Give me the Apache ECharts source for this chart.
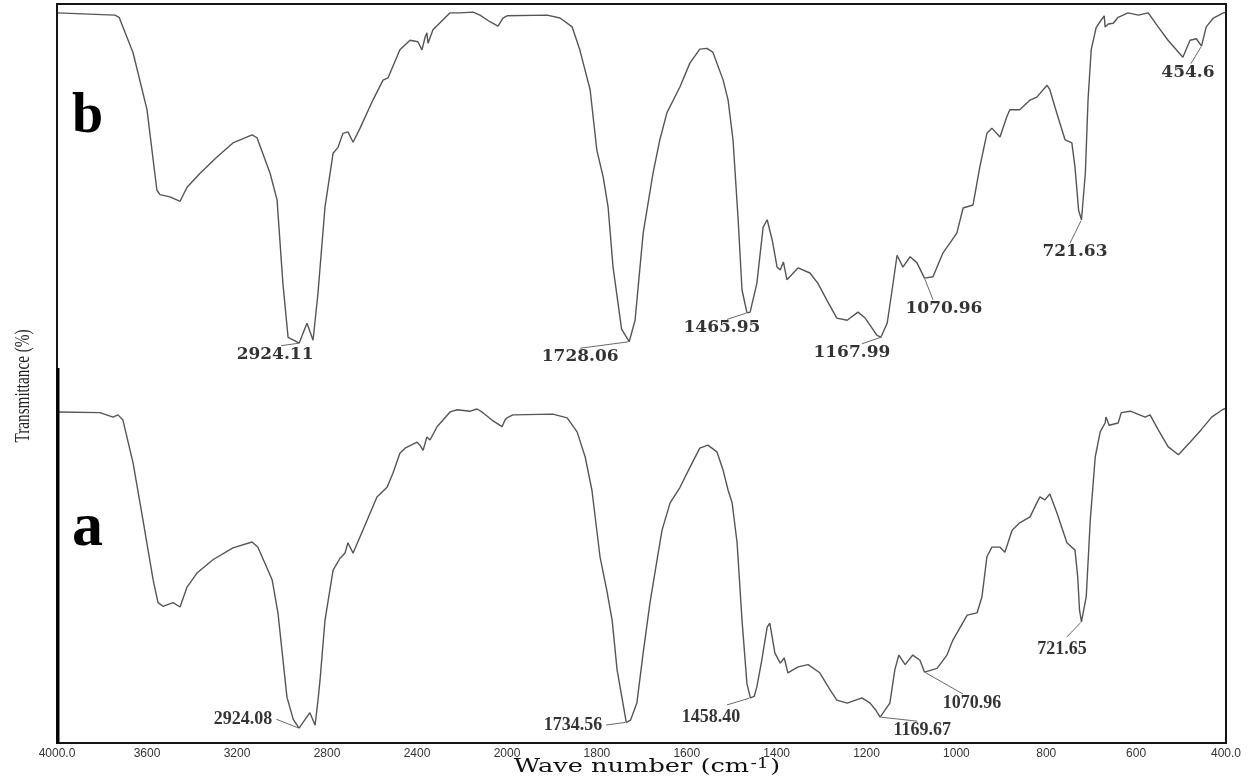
<!DOCTYPE html>
<html>
<head>
<meta charset="utf-8">
<script src="https://cdn.jsdelivr.net/npm/echarts@6/dist/echarts.min.js"></script>
<style>
  html, body { margin: 0; padding: 0; background: #fff; }
  #chart { width: 1249px; height: 783px; }
</style>
</head>
<body>
<div id="chart"></div>
<script>
// FTIR spectra: wavenumber (cm-1) against transmittance; trace b is stacked above trace a.
const waveB = [
  4000, 3742, 3724, 3662, 3600, 3556, 3542, 3498, 3453, 3422,
  3364, 3289, 3218, 3133, 3111, 3053, 3022, 2996, 2973, 2942,
  2924.11, 2889, 2862, 2840, 2809, 2773, 2751, 2729, 2707, 2684,
  2653, 2596, 2551, 2529, 2476, 2431, 2396, 2378, 2364, 2356,
  2351, 2329, 2253, 2209, 2151, 2120, 2076, 2040, 2018, 2000,
  1911, 1882, 1855, 1838, 1815, 1800, 1786, 1775, 1764, 1745,
  1728.06, 1715, 1697, 1675, 1660, 1644, 1615, 1593, 1571, 1555,
  1542, 1519, 1508, 1497, 1486, 1477, 1465.95, 1459, 1444, 1430,
  1421, 1410, 1399, 1392, 1385, 1377, 1352, 1326, 1308, 1288,
  1266, 1243, 1219, 1203, 1177, 1167.99, 1154, 1143, 1132, 1119,
  1103, 1088, 1070.96, 1052, 1030, 999, 985, 963, 948, 932,
  921, 903, 888, 881, 859, 836, 821, 798, 792, 774,
  758, 743, 736, 728, 721.63, 713, 707, 700, 689, 678,
  671, 669, 662, 651, 640, 618, 595, 573, 551, 529,
  496, 480, 466, 454.6, 444, 428, 406, 400
];
const transB = [
  98.8, 98.5, 98.2, 93.4, 85.7, 74.8, 74.2, 73.9, 73.3, 75.2,
  77.1, 79.3, 81.2, 82.3, 81.9, 77.1, 73.5, 62.2, 54.9, 54.4,
  54.1, 56.8, 54.5, 60.9, 72.5, 79.8, 80.6, 82.5, 82.7, 81.3,
  83.2, 87.0, 89.7, 90.0, 93.8, 95.1, 94.9, 93.8, 95.5, 96.1,
  94.7, 96.5, 98.8, 98.8, 98.9, 98.5, 97.6, 97.0, 98.1, 98.4,
  98.5, 98.1, 96.9, 93.8, 88.4, 80.2, 76.6, 72.5, 64.4, 56.0,
  54.3, 57.2, 69.0, 77.1, 81.6, 85.3, 88.8, 92.0, 93.9, 94.0,
  93.5, 89.7, 87.0, 81.6, 71.2, 61.3, 58.2, 58.3, 62.2, 69.8,
  70.8, 68.1, 64.4, 64.0, 65.1, 62.7, 64.3, 63.6, 62.2, 59.9,
  57.5, 57.2, 58.3, 57.5, 55.2, 54.9, 56.8, 61.3, 66.0, 64.4,
  65.8, 65.0, 62.9, 63.1, 66.3, 69.0, 72.4, 72.8, 77.9, 82.5,
  83.2, 82.0, 84.7, 85.7, 85.7, 87.0, 87.4, 89.0, 88.4, 84.7,
  81.6, 81.2, 77.9, 72.1, 70.8, 77.1, 87.0, 93.8, 96.8, 97.8,
  98.4, 96.9, 97.3, 97.4, 98.2, 98.8, 98.5, 98.8, 96.9, 95.1,
  92.8, 95.1, 95.3, 94.3, 96.9, 98.1, 98.8, 98.9
];

const waveA = [
  4000, 3809, 3751, 3729, 3707, 3662, 3618, 3573, 3551, 3529,
  3484, 3453, 3422, 3378, 3307, 3218, 3133, 3107, 3044, 3018,
  2978, 2950, 2924.08, 2876, 2853, 2840, 2831, 2809, 2773, 2742,
  2720, 2707, 2684, 2653, 2578, 2533, 2507, 2476, 2453, 2400,
  2387, 2373, 2356, 2342, 2311, 2253, 2222, 2164, 2133, 2107,
  2067, 2022, 2009, 2000, 1987, 1898, 1866, 1844, 1826, 1811,
  1793, 1778, 1766, 1755, 1734.56, 1725, 1711, 1697, 1682, 1666,
  1655, 1637, 1615, 1593, 1571, 1553, 1533, 1519, 1508, 1499,
  1488, 1477, 1466, 1458.40, 1450, 1444, 1433, 1421, 1415, 1404,
  1392, 1383, 1375, 1352, 1330, 1304, 1281, 1266, 1243, 1210,
  1192, 1180, 1169.67, 1148, 1137, 1128, 1114, 1097, 1081, 1070.96,
  1043, 1021, 1008, 976, 954, 943, 932, 921, 903, 892,
  876, 859, 836, 821, 814, 803, 792, 776, 754, 736,
  730, 726, 721.65, 711, 702, 691, 680, 669, 667, 660,
  640, 633, 613, 580, 569, 551, 529, 506, 480, 455,
  432, 408, 400
];
const transA = [
  44.8, 44.7, 44.1, 44.4, 43.7, 37.9, 30.2, 22.1, 19.0, 18.5,
  19.0, 18.4, 21.1, 23.0, 24.8, 26.4, 27.2, 26.5, 22.1, 17.6,
  6.2, 3.2, 2.0, 4.1, 2.4, 5.8, 8.5, 16.6, 23.4, 25.0,
  25.7, 27.1, 25.7, 27.9, 33.3, 34.6, 36.5, 39.2, 39.9, 40.7,
  40.3, 39.6, 41.4, 41.0, 42.8, 44.8, 45.1, 44.9, 45.2, 44.7,
  43.7, 42.8, 43.7, 44.0, 44.4, 44.5, 44.0, 42.1, 38.7, 34.2,
  25.2, 20.7, 16.6, 9.9, 2.8, 3.1, 5.4, 12.2, 18.9, 24.8,
  28.8, 32.5, 34.6, 37.3, 39.9, 40.3, 39.4, 36.9, 34.2, 32.5,
  27.1, 16.6, 8.0, 6.1, 6.3, 7.6, 11.2, 15.7, 16.2, 12.2,
  10.8, 11.5, 9.5, 10.3, 10.6, 9.5, 7.2, 5.8, 5.4, 6.1,
  5.4, 4.5, 3.5, 5.4, 9.9, 11.9, 10.6, 11.9, 11.2, 9.6,
  10.1, 11.9, 13.9, 17.3, 17.6, 19.8, 25.2, 26.5, 26.5, 25.8,
  28.8, 29.8, 30.6, 32.5, 33.3, 32.9, 33.7, 31.1, 27.1, 26.1,
  22.5, 18.0, 16.4, 19.8, 30.2, 38.7, 42.1, 43.3, 44.1, 43.0,
  43.3, 44.7, 44.9, 44.1, 44.4, 42.4, 40.1, 39.0, 40.7, 42.4,
  44.1, 45.1, 45.3
];

// Annotated band positions (cm-1) and their printed labels
const peaksB = [2924.11, 1728.06, 1465.95, 1167.99, 1070.96, 721.63, 454.6];
const peakTextB = ['2924.11', '1728.06', '1465.95', '1167.99', '1070.96', '721.63', '454.6'];
const peaksA = [2924.08, 1734.56, 1458.40, 1169.67, 1070.96, 721.65];
const peakTextA = ['2924.08', '1734.56', '1458.40', '1169.67', '1070.96', '721.65'];

// Tick labels: 4000-2000 every 400, then 2000-400 every 200 (expanded scale)
const tickLabelsHigh = ['4000.0', '3600', '3200', '2800', '2400'];
const tickLabelsLow = ['2000', '1800', '1600', '1400', '1200', '1000', '800', '600', '400.0'];

// Label placement: [dx, dy] of the label box from its band point, then box padding
// [top, right, bottom, left] which steers where the leader line attaches.
const labelBoxB = [
  [-18, 11, 0, 12, 0, 0],
  [-49, 15, 0, 80, 0, 80],
  [-20, 15, 0, 10, 0, 0],
  [-19, 15, 0, 20, 0, 0],
  [8.5, 30, 0, 0, 0, 22],
  [-11.5, 32, 0, 0, 0, 10],
  [-10.5, 26, 0, 6, 0, 0]
];
const labelBoxA = [
  [-54, -9, 0, 4, 0, 0],
  [-51.3, 2.7, 0, 4, 0, 0],
  [-23.4, 19, 0, 52, 6, 20],
  [37, 13, 0, 60, 0, 70],
  [38.5, 31, 0, 50, 0, 68],
  [-14.5, 28, 0, 10, 8, 0]
];

const lineColor = '#555555';

function segment(waves, trans, high) {
  return waves.map((w, i) => [w, trans[i]])
    .filter(p => (high ? p[0] >= 2000 : p[0] <= 2000));
}

function curve(waves, trans, high) {
  return {
    type: 'line',
    xAxisIndex: high ? 0 : 1,
    yAxisIndex: high ? 0 : 1,
    data: segment(waves, trans, high),
    showSymbol: false,
    symbol: 'none',
    silent: true,
    z: 3,
    lineStyle: { color: lineColor, width: 1.4 }
  };
}

function peakSeries(peaks, texts, boxes, waves, trans, high, font) {
  const items = [];
  const shift = [];
  peaks.forEach((w, i) => {
    if ((w >= 2000) !== high) return;
    const v = trans[waves.indexOf(w)];
    const b = boxes[i];
    items.push({ value: [w, v], name: texts[i], label: { padding: [b[2], b[3], b[4], b[5]] } });
    shift.push([b[0], b[1]]);
  });
  return {
    type: 'scatter',
    xAxisIndex: high ? 0 : 1,
    yAxisIndex: high ? 0 : 1,
    data: items,
    symbol: 'circle',
    symbolSize: 2,
    silent: true,
    z: 5,
    itemStyle: { color: 'rgba(0,0,0,0)' },
    label: Object.assign({
      show: true, position: 'inside', formatter: '{b}', color: '#000',
      backgroundColor: 'rgba(255,255,255,0)'
    }, font),
    labelLine: { show: true, lineStyle: { color: '#6a6a6a', width: 1 } },
    labelLayout: p => ({ dx: shift[p.dataIndex][0], dy: shift[p.dataIndex][1] })
  };
}

const fontB = { fontFamily: 'DejaVu Serif', fontWeight: 'bold', fontSize: 17 };
const fontA = { fontFamily: 'Liberation Serif', fontWeight: 'bold', fontSize: 18 };

const tickLabelStyle = {
  fontFamily: 'Liberation Sans',
  fontSize: 12,
  color: '#333',
  margin: 5,
  showMinLabel: true,
  showMaxLabel: true
};

const chart = echarts.init(document.getElementById('chart'), null, { renderer: 'canvas' });

chart.setOption({
  backgroundColor: '#fff',
  animation: false,
  grid: [
    { left: 57, top: 4, width: 450, height: 739 },
    { left: 507, top: 4, width: 719, height: 739 }
  ],
  xAxis: [
    {
      gridIndex: 0, type: 'value', min: 2000, max: 4000, interval: 400, inverse: true,
      axisLine: { show: false }, axisTick: { show: false }, splitLine: { show: false },
      axisLabel: Object.assign({
        formatter: v => tickLabelsHigh[Math.round((4000 - v) / 400)] || ''
      }, tickLabelStyle)
    },
    {
      gridIndex: 1, type: 'value', min: 400, max: 2000, interval: 200, inverse: true,
      axisLine: { show: false }, axisTick: { show: false }, splitLine: { show: false },
      axisLabel: Object.assign({
        formatter: v => tickLabelsLow[Math.round((2000 - v) / 200)] || ''
      }, tickLabelStyle)
    }
  ],
  yAxis: [
    { gridIndex: 0, type: 'value', min: 0, max: 100, show: false },
    { gridIndex: 1, type: 'value', min: 0, max: 100, show: false }
  ],
  series: [
    curve(waveB, transB, true),
    curve(waveB, transB, false),
    curve(waveA, transA, true),
    curve(waveA, transA, false),
    peakSeries(peaksB, peakTextB, labelBoxB, waveB, transB, true, fontB),
    peakSeries(peaksB, peakTextB, labelBoxB, waveB, transB, false, fontB),
    peakSeries(peaksA, peakTextA, labelBoxA, waveA, transA, true, fontA),
    peakSeries(peaksA, peakTextA, labelBoxA, waveA, transA, false, fontA)
  ],
  graphic: [
    {
      type: 'rect', silent: true, z: 10,
      shape: { x: 57, y: 4, width: 1169, height: 739 },
      style: { fill: null, stroke: '#151515', lineWidth: 2 }
    },
    {
      type: 'line', silent: true, z: 10,
      shape: { x1: 58, y1: 368, x2: 58, y2: 744 },
      style: { stroke: '#000', lineWidth: 3 }
    },
    {
      type: 'text', silent: true, z: 10,
      x: 24, y: 386, rotation: Math.PI / 2, scaleX: 0.76,
      style: {
        text: 'Transmittance (%)',
        font: '20px "Liberation Serif"',
        fill: '#222', align: 'center', verticalAlign: 'middle'
      }
    },
    {
      type: 'text', silent: true, z: 10,
      x: 647, y: 767, scaleX: 1.35,
      style: {
        text: 'Wave number (cm{s|-1})',
        font: '19px "DejaVu Serif"',
        fill: '#111', align: 'center', verticalAlign: 'middle',
        rich: {
          s: { fontFamily: 'DejaVu Serif', fontSize: 14, verticalAlign: 'top', padding: [0, 1, 6, 1] }
        }
      }
    },
    {
      type: 'text', silent: true, z: 10,
      x: 72, y: 118,
      style: { text: 'b', font: 'bold 56px "Liberation Serif"', fill: '#000', verticalAlign: 'middle' }
    },
    {
      type: 'text', silent: true, z: 10,
      x: 72, y: 529,
      style: { text: 'a', font: 'bold 62px "Liberation Serif"', fill: '#000', verticalAlign: 'middle' }
    }
  ]
});
</script>
</body>
</html>
